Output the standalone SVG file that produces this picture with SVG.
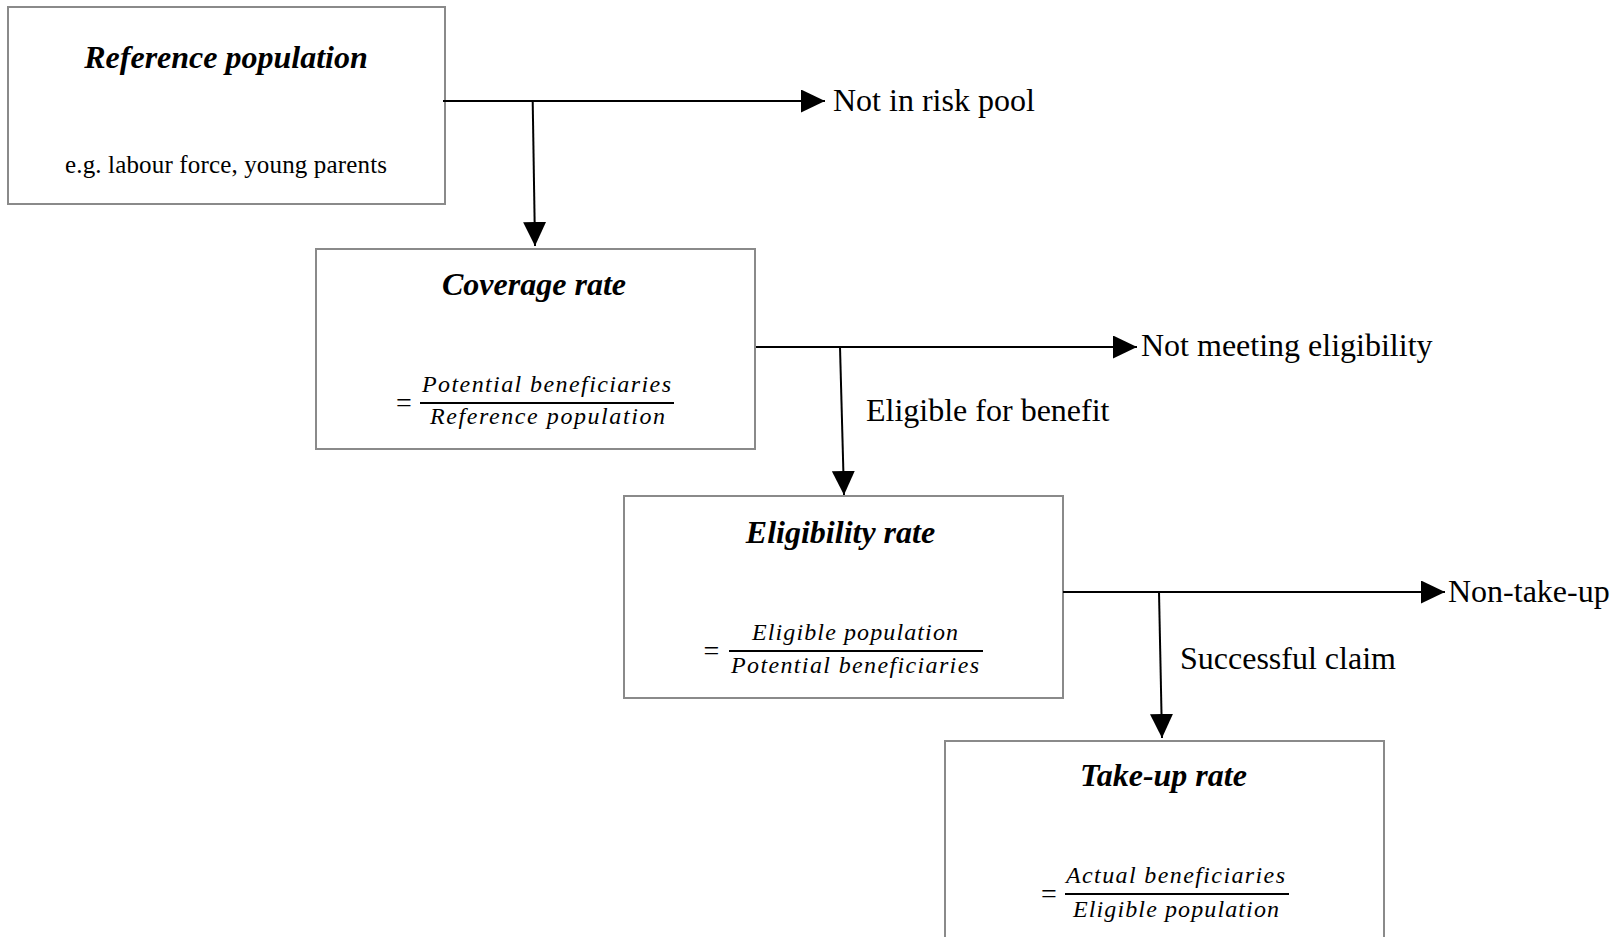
<svg xmlns="http://www.w3.org/2000/svg" width="1617" height="937" viewBox="0 0 1617 937">
<style>
.box{fill:#fff;stroke:#8a8a8a;stroke-width:2}
.title{font-family:"Liberation Serif","Times New Roman",serif;font-size:32px;font-weight:bold;font-style:italic;fill:#000;text-anchor:middle}
.sub{font-family:"Liberation Serif","Times New Roman",serif;font-size:25px;fill:#000}
.math{font-family:"Liberation Serif","Times New Roman",serif;font-size:24px;font-style:italic;fill:#000}
.eq{font-family:"Liberation Serif","Times New Roman",serif;font-size:28px;fill:#000;text-anchor:middle}
.bar{stroke:#000;stroke-width:2}
.lbl{font-family:"Liberation Serif","Times New Roman",serif;font-size:32px;fill:#000}
.conn{stroke:#000;stroke-width:2;fill:none;marker-end:url(#arr)}
</style>
<defs>
<marker id="arr" markerUnits="userSpaceOnUse" markerWidth="24" markerHeight="24" refX="24" refY="11.5" orient="auto">
<path d="M0,0 L24,11.5 L0,23 Z" fill="#000"/>
</marker>
</defs>
<rect width="1617" height="937" fill="#fff"/>

<g id="reference-population">
<rect class="box" x="8" y="7" width="437" height="197"/>
<text class="title" x="226" y="68">Reference population</text>
<text class="sub" x="65" y="173" textLength="322">e.g. labour force, young parents</text>
</g>

<g id="coverage-rate">
<rect class="box" x="316" y="249" width="439" height="200"/>
<text class="title" x="534" y="295">Coverage rate</text>
<text class="eq" x="404" y="412">=</text>
<line class="bar" x1="420" y1="403" x2="674" y2="403"/>
<text class="math" x="422" y="392" textLength="249">Potential beneficiaries</text>
<text class="math" x="430" y="424" textLength="235">Reference population</text>
</g>

<g id="eligibility-rate">
<rect class="box" x="624" y="496" width="439" height="202"/>
<text class="title" x="840.5" y="543">Eligibility rate</text>
<text class="eq" x="711.5" y="660">=</text>
<line class="bar" x1="729" y1="651" x2="983" y2="651"/>
<text class="math" x="752" y="640" textLength="206">Eligible population</text>
<text class="math" x="731" y="673" textLength="248">Potential beneficiaries</text>
</g>

<g id="take-up-rate">
<rect class="box" x="945" y="741" width="439" height="205"/>
<text class="title" x="1163.5" y="786">Take-up rate</text>
<text class="eq" x="1049" y="903">=</text>
<line class="bar" x1="1065" y1="894" x2="1289" y2="894"/>
<text class="math" x="1066" y="883" textLength="219">Actual beneficiaries</text>
<text class="math" x="1073" y="917" textLength="206">Eligible population</text>
</g>

<g id="connectors">
<line class="conn" x1="443" y1="101" x2="825" y2="101"/>
<line class="conn" x1="532.7" y1="101" x2="535" y2="246"/>
<line class="conn" x1="756" y1="347" x2="1137" y2="347"/>
<line class="conn" x1="840" y1="347" x2="844" y2="495"/>
<line class="conn" x1="1063" y1="592" x2="1445" y2="592"/>
<line class="conn" x1="1159" y1="592" x2="1162" y2="738"/>
</g>

<g id="labels">
<text class="lbl" x="833" y="111">Not in risk pool</text>
<text class="lbl" x="1141" y="356">Not meeting eligibility</text>
<text class="lbl" x="866" y="421">Eligible for benefit</text>
<text class="lbl" x="1448" y="602">Non-take-up</text>
<text class="lbl" x="1180" y="669">Successful claim</text>
</g>
</svg>
